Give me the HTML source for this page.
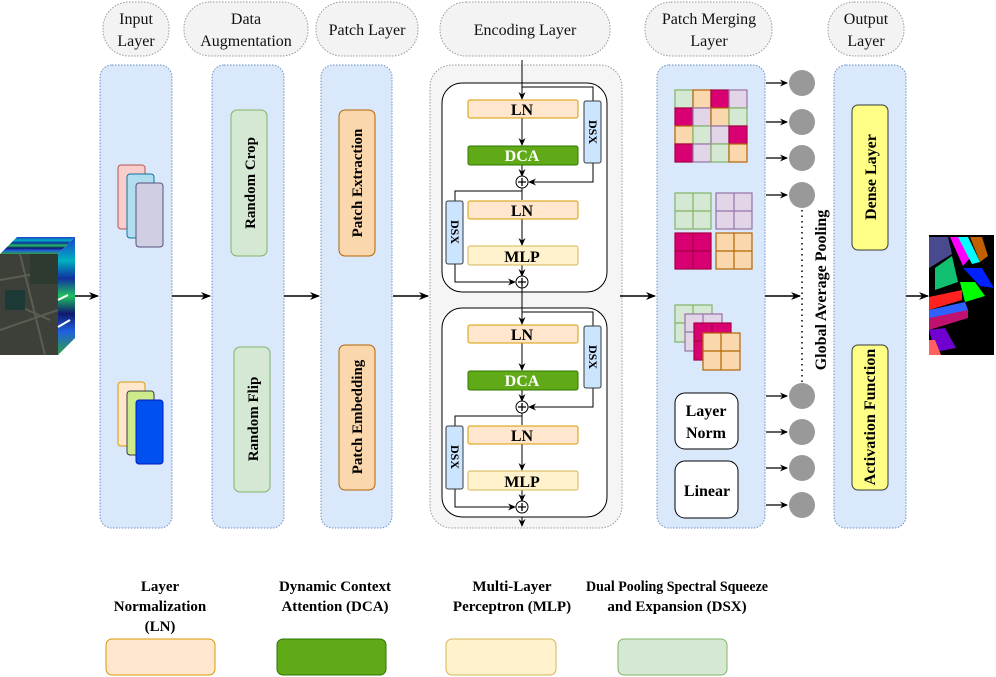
<!DOCTYPE html>
<html><head><meta charset="utf-8"><style>
html,body{margin:0;padding:0;background:#fff;font-family:"Liberation Serif",serif;}
svg{display:block;font-family:"Liberation Serif",serif;}
svg text{font-family:"Liberation Serif",serif;}
</style></head><body>
<svg width="996" height="677" viewBox="0 0 996 677" xmlns="http://www.w3.org/2000/svg" font-family="Liberation Serif, serif" style="font-family:'Liberation Serif',serif">
<defs>
<marker id="ar" markerWidth="10" markerHeight="10" refX="9" refY="5" orient="auto" markerUnits="userSpaceOnUse">
<path d="M0,1 L10,5 L0,9 L3,5 z" fill="#000"/></marker>
<marker id="as" markerWidth="8" markerHeight="8" refX="7" refY="4" orient="auto" markerUnits="userSpaceOnUse">
<path d="M0,0.5 L8,4 L0,7.5 L2.5,4 z" fill="#000"/></marker>
<linearGradient id="sp" x1="0" y1="0" x2="0" y2="1">
<stop offset="0" stop-color="#1a3fd0"/><stop offset="0.2" stop-color="#00b0c0"/><stop offset="0.35" stop-color="#1030a0"/><stop offset="0.5" stop-color="#20c060"/><stop offset="0.65" stop-color="#101870"/><stop offset="0.8" stop-color="#2060e0"/><stop offset="1" stop-color="#30a040"/></linearGradient>
</defs>

<g fill="#f3f3f3" stroke="#999" stroke-dasharray="1.5,1.5" stroke-width="1">
<rect x="103" y="2" width="66" height="54" rx="26"/>
<rect x="184" y="2" width="124" height="54" rx="26"/>
<rect x="316" y="2" width="102" height="54" rx="26"/>
<rect x="440" y="2" width="170" height="54" rx="26"/>
<rect x="645" y="2" width="127" height="54" rx="26"/>
<rect x="828" y="2" width="76" height="54" rx="26"/>
</g>
<g font-size="16" text-anchor="middle" fill="#111">
<text x="136" y="24">Input</text><text x="136" y="46">Layer</text>
<text x="246" y="24">Data</text><text x="246" y="46">Augmentation</text>
<text x="367" y="35">Patch Layer</text>
<text x="525" y="35">Encoding Layer</text>
<text x="709" y="24">Patch Merging</text><text x="709" y="46">Layer</text>
<text x="866" y="24">Output</text><text x="866" y="46">Layer</text>
</g>

<g fill="#dae8fc" stroke="#6c8ebf" stroke-dasharray="1.5,1.5" stroke-width="1">
<rect x="100" y="65" width="72" height="463" rx="12"/>
<rect x="212" y="65" width="72" height="463" rx="12"/>
<rect x="321" y="65" width="71" height="463" rx="12"/>
<rect x="657" y="65" width="108" height="463" rx="12"/>
<rect x="834" y="65" width="72" height="463" rx="12"/>
</g>
<rect x="430" y="65" width="192" height="463" rx="22" fill="#f5f5f5" stroke="#999" stroke-dasharray="1.5,1.5"/>

<polygon points="0,254 17,237 75,237 58,254" fill="url(#sp)"/>
<polygon points="58,254 75,237 75,338 58,355" fill="url(#sp)"/>
<rect x="0" y="254" width="58" height="101" fill="#3d4038"/>
<path d="M0,280 L58,270 M5,300 L50,320 M20,254 L45,355 M0,330 L58,310" stroke="#5a5e52" stroke-width="2" fill="none"/>
<rect x="5" y="290" width="20" height="20" fill="#1e3a36"/>
<rect x="30" y="254" width="28" height="30" fill="#2c3a30"/>
<line x1="58" y1="300" x2="68" y2="295" stroke="#fff" stroke-width="2"/>
<line x1="58" y1="327" x2="70" y2="320" stroke="#fff" stroke-width="2"/>

<rect x="118" y="165" width="27" height="64" rx="3" fill="#f8cecc" stroke="#b85450"/>
<rect x="127" y="174" width="27" height="64" rx="3" fill="#b1ddf0" stroke="#10739e"/>
<rect x="136" y="183" width="27" height="64" rx="3" fill="#d0cee2" stroke="#56517e"/>
<rect x="118" y="382" width="27" height="64" rx="3" fill="#ffe6cc" stroke="#d79b00"/>
<rect x="127" y="391" width="27" height="64" rx="3" fill="#cdeb8b" stroke="#36393d"/>
<rect x="136" y="400" width="27" height="64" rx="3" fill="#0050ef" stroke="#001dbc"/>

<rect x="231" y="110" width="36" height="146" rx="6" fill="#d5e8d4" stroke="#82b366"/>
<rect x="234" y="347" width="36" height="145" rx="6" fill="#d5e8d4" stroke="#82b366"/>
<rect x="339" y="110" width="36" height="146" rx="6" fill="#fad7ac" stroke="#b46504"/>
<rect x="339" y="345" width="36" height="145" rx="6" fill="#fad7ac" stroke="#b46504"/>
<g font-size="15" font-weight="bold" text-anchor="middle" fill="#000">
<text transform="translate(255,183) rotate(-90)">Random Crop</text>
<text transform="translate(258,419) rotate(-90)">Random Flip</text>
<text transform="translate(362,183) rotate(-90)">Patch Extraction</text>
<text transform="translate(362,417) rotate(-90)">Patch Embedding</text>
</g>

<g stroke="#000" stroke-width="1.6" fill="none" marker-end="url(#ar)">
<line x1="75" y1="296" x2="98" y2="296"/>
<line x1="172" y1="296" x2="210" y2="296"/>
<line x1="284" y1="296" x2="319" y2="296"/>
<line x1="393" y1="296" x2="428" y2="296"/>
<line x1="620" y1="296" x2="655" y2="296"/>
<line x1="765" y1="296" x2="800" y2="296"/>
<line x1="906" y1="296" x2="928" y2="296"/>
</g>

<g id="blk">
<rect x="442" y="83" width="165" height="209" rx="20" fill="#fff" stroke="#000"/>
<g stroke="#000" stroke-width="1" fill="none">
<line x1="522" y1="60" x2="522" y2="99" marker-end="url(#as)"/>
<polyline points="522,87 593,87 593,101"/>
<line x1="522" y1="118" x2="522" y2="145" marker-end="url(#as)"/>
<line x1="522" y1="165" x2="522" y2="176" marker-end="url(#as)"/>
<polyline points="593,163 593,182 529,182" marker-end="url(#as)"/>
<line x1="522" y1="188" x2="522" y2="200"/>
<polyline points="522,191 455,191 455,201"/>
<line x1="522" y1="219" x2="522" y2="245" marker-end="url(#as)"/>
<line x1="522" y1="265" x2="522" y2="276" marker-end="url(#as)"/>
<polyline points="455,264 455,282 515,282" marker-end="url(#as)"/>
</g>
<rect x="468" y="100" width="110" height="18" rx="2" fill="#ffe6cc" stroke="#d79b00"/>
<rect x="468" y="146" width="110" height="19" rx="2" fill="#60a917" stroke="#2d7600"/>
<rect x="468" y="201" width="110" height="18" rx="2" fill="#ffe6cc" stroke="#d79b00"/>
<rect x="468" y="246" width="110" height="19" rx="2" fill="#fff2cc" stroke="#d6b656"/>
<rect x="584" y="101" width="17" height="62" rx="2" fill="#cce5ff" stroke="#36393d"/>
<rect x="446" y="201" width="17" height="63" rx="2" fill="#cce5ff" stroke="#36393d"/>
<circle cx="522" cy="182" r="6" fill="#fff" stroke="#000"/>
<circle cx="522" cy="282" r="6" fill="#fff" stroke="#000"/>
<path d="M518,182h8M522,178v8M518,282h8M522,278v8" stroke="#000" stroke-width="1.3"/>
<g font-size="16" font-weight="bold" text-anchor="middle">
<text x="522" y="115">LN</text>
<text x="522" y="161" fill="#fff">DCA</text>
<text x="522" y="216">LN</text>
<text x="522" y="262">MLP</text>
</g>
<g font-size="12" font-weight="bold" text-anchor="middle">
<text transform="translate(589,132) rotate(90)">DSX</text>
<text transform="translate(451,232) rotate(90)">DSX</text>
</g>
</g>
<use href="#blk" transform="translate(0,225)"/>
<line x1="522" y1="517" x2="522" y2="526" stroke="#000" marker-end="url(#as)"/>

<g stroke-width="1.2">
<rect x="675" y="90" width="18" height="18" fill="#d5e8d4" stroke="#82b366"/>
<rect x="693" y="90" width="18" height="18" fill="#fad7ac" stroke="#b46504"/>
<rect x="711" y="90" width="18" height="18" fill="#d80073" stroke="#a50040"/>
<rect x="729" y="90" width="18" height="18" fill="#e1d5e7" stroke="#9673a6"/>
<rect x="675" y="108" width="18" height="18" fill="#d80073" stroke="#a50040"/>
<rect x="693" y="108" width="18" height="18" fill="#e1d5e7" stroke="#9673a6"/>
<rect x="711" y="108" width="18" height="18" fill="#fad7ac" stroke="#b46504"/>
<rect x="729" y="108" width="18" height="18" fill="#d5e8d4" stroke="#82b366"/>
<rect x="675" y="126" width="18" height="18" fill="#fad7ac" stroke="#b46504"/>
<rect x="693" y="126" width="18" height="18" fill="#d5e8d4" stroke="#82b366"/>
<rect x="711" y="126" width="18" height="18" fill="#e1d5e7" stroke="#9673a6"/>
<rect x="729" y="126" width="18" height="18" fill="#d80073" stroke="#a50040"/>
<rect x="675" y="144" width="18" height="18" fill="#d80073" stroke="#a50040"/>
<rect x="693" y="144" width="18" height="18" fill="#e1d5e7" stroke="#9673a6"/>
<rect x="711" y="144" width="18" height="18" fill="#d5e8d4" stroke="#82b366"/>
<rect x="729" y="144" width="18" height="18" fill="#fad7ac" stroke="#b46504"/>
</g>
<g stroke-width="1.2">
<rect x="675" y="193" width="36" height="36" fill="#d5e8d4" stroke="#82b366"/><path d="M693,193v36M675,211h36" stroke="#82b366"/>
<rect x="716" y="193" width="36" height="36" fill="#e1d5e7" stroke="#9673a6"/><path d="M734,193v36M716,211h36" stroke="#9673a6"/>
<rect x="675" y="233" width="36" height="36" fill="#d80073" stroke="#a50040"/><path d="M693,233v36M675,251h36" stroke="#a50040"/>
<rect x="716" y="233" width="36" height="36" fill="#fad7ac" stroke="#b46504"/><path d="M734,233v36M716,251h36" stroke="#b46504"/>
<rect x="675" y="305" width="37" height="37" fill="#d5e8d4" stroke="#82b366"/><path d="M693,305v37M675,323h37" stroke="#82b366"/>
<rect x="685" y="314" width="37" height="37" fill="#e1d5e7" stroke="#9673a6"/><path d="M703,314v37M685,332h37" stroke="#9673a6"/>
<rect x="694" y="323" width="37" height="37" fill="#d80073" stroke="#a50040"/><path d="M712,323v37M694,341h37" stroke="#a50040"/>
<rect x="703" y="333" width="37" height="37" fill="#fad7ac" stroke="#b46504"/><path d="M721,333v37M703,351h37" stroke="#b46504"/>
</g>
<rect x="675" y="393" width="63" height="56" rx="10" fill="#fff" stroke="#000"/>
<rect x="675" y="461" width="63" height="57" rx="10" fill="#fff" stroke="#000"/>
<g font-size="16" font-weight="bold" text-anchor="middle">
<text x="706" y="416">Layer</text><text x="706" y="438">Norm</text>
<text x="707" y="496">Linear</text>
</g>

<g stroke="#000" stroke-width="1.3" marker-end="url(#as)">
<line x1="766" y1="83" x2="787" y2="83"/><line x1="766" y1="122" x2="787" y2="122"/>
<line x1="766" y1="158" x2="787" y2="158"/><line x1="766" y1="195" x2="787" y2="195"/>
<line x1="766" y1="396" x2="787" y2="396"/><line x1="766" y1="432" x2="787" y2="432"/>
<line x1="766" y1="468" x2="787" y2="468"/><line x1="766" y1="505" x2="787" y2="505"/>
</g>
<g fill="#999">
<circle cx="802" cy="83" r="13"/><circle cx="802" cy="122" r="13"/><circle cx="802" cy="158" r="13"/><circle cx="802" cy="195" r="13"/>
<circle cx="802" cy="396" r="13"/><circle cx="802" cy="432" r="13"/><circle cx="802" cy="468" r="13"/><circle cx="802" cy="505" r="13"/>
</g>
<line x1="802" y1="210" x2="802" y2="382" stroke="#000" stroke-width="1.5" stroke-dasharray="1.5,4"/>
<text transform="translate(826,290) rotate(-90)" font-size="16" font-weight="bold" text-anchor="middle">Global Average Pooling</text>

<rect x="852" y="105" width="36" height="145" rx="6" fill="#ffff88" stroke="#36393d"/>
<rect x="852" y="345" width="36" height="145" rx="6" fill="#ffff88" stroke="#36393d"/>
<g font-size="16" font-weight="bold" text-anchor="middle">
<text transform="translate(876,177) rotate(-90)">Dense Layer</text>
<text transform="translate(875,417) rotate(-90)">Activation Function</text>
</g>

<rect x="929" y="235" width="65" height="120" fill="#000"/>
<polygon points="929,237 948,237 952,254 929,268" fill="#4a4a90"/>
<polygon points="935,268 952,256 958,282 935,290" fill="#10c070"/>
<polygon points="950,237 960,237 970,258 963,266" fill="#ff00ff"/>
<polygon points="958,237 968,237 980,262 972,264" fill="#00ffff"/>
<polygon points="970,237 982,237 988,256 980,262" fill="#c06000"/>
<polygon points="963,268 982,268 994,288 980,286" fill="#0020ff"/>
<polygon points="960,282 975,282 985,296 965,302" fill="#00ff00"/>
<polygon points="929,297 962,290 962,300 929,310" fill="#ff2020"/>
<polygon points="929,310 965,302 968,310 929,322" fill="#3060ff"/>
<polygon points="929,318 968,310 968,318 929,330" fill="#c01070"/>
<polygon points="929,330 945,328 956,348 935,352" fill="#7000d0"/>
<polygon points="929,340 935,340 941,355 929,355" fill="#ff6060"/>

<g font-size="15" font-weight="bold" text-anchor="middle">
<text x="160" y="591">Layer</text>
<text x="160" y="611">Normalization</text>
<text x="160" y="631">(LN)</text>
<text x="335" y="591">Dynamic Context</text>
<text x="335" y="611">Attention (DCA)</text>
<text x="512" y="591">Multi-Layer</text>
<text x="512" y="611">Perceptron (MLP)</text>
<text x="677" y="591" textLength="182" lengthAdjust="spacingAndGlyphs">Dual Pooling Spectral Squeeze</text>
<text x="677" y="611">and Expansion (DSX)</text>
</g>
<rect x="106" y="639" width="109" height="36" rx="6" fill="#ffe6cc" stroke="#d79b00"/>
<rect x="277" y="639" width="109" height="36" rx="6" fill="#60a917" stroke="#2d7600"/>
<rect x="446" y="639" width="110" height="36" rx="6" fill="#fff2cc" stroke="#d6b656"/>
<rect x="618" y="639" width="109" height="36" rx="6" fill="#d5e8d4" stroke="#82b366"/>
</svg>
</body></html>
